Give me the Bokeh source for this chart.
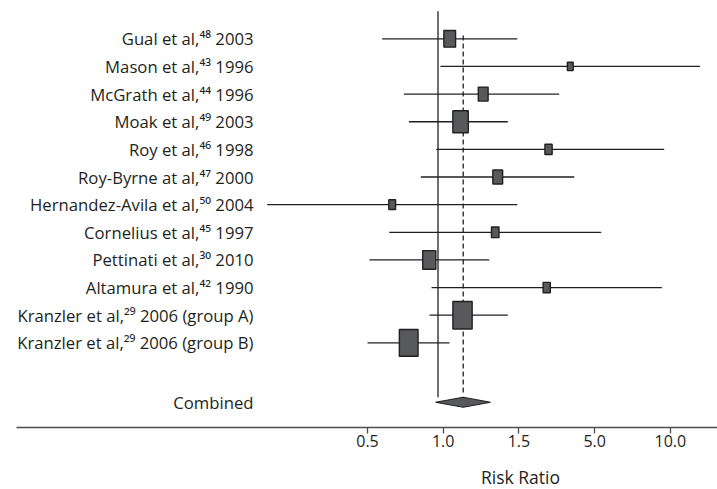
from bokeh.plotting import figure
from bokeh.models import (ColumnDataSource, LinearAxis, FixedTicker, Range1d)
from bokeh.core.properties import value
from bokeh.embed import file_html
from bokeh.resources import INLINE

# ---- data (x values are positions on the risk-ratio axis, in tick units:
#      0 -> 0.5, 1 -> 1.0, 2 -> 1.5, 3 -> 5.0, 4 -> 10.0) ----
authors = ["Gual et al,", "Mason et al,", "McGrath et al,", "Moak et al,", "Roy et al,",
           "Roy-Byrne at al,", "Hernandez-Avila et al,", "Cornelius et al,", "Pettinati et al,",
           "Altamura et al,", "Kranzler et al,", "Kranzler et al,"]
refs = ["48", "43", "44", "49", "46", "47", "50", "45", "30", "42", "29", "29"]
years = ["2003", "1996", "1996", "2003", "1998", "2000", "2004", "1997", "2010", "1990",
         "2006 (group A)", "2006 (group B)"]
estimate = [1.086, 2.678, 1.528, 1.229, 2.391, 1.720, 0.326, 1.687, 0.816, 2.367, 1.255, 0.544]
lower = [0.194, 0.964, 0.480, 0.546, 0.908, 0.704, -1.325, 0.287, 0.026, 0.845, 0.819, 0.000]
upper = [1.978, 4.390, 2.532, 1.853, 3.919, 2.731, 1.978, 3.087, 1.608, 3.888, 1.853, 1.083]
weights = [16.7, 8.3, 14.0, 22.0, 10.3, 14.0, 9.7, 10.7, 18.7, 10.3, 27.5, 26.7]
combined_label = "Combined"
combined_est, combined_lo, combined_hi = 1.264, 0.898, 1.625
null_value = 0.931
tick_pos = [0, 1, 2, 3, 4]
tick_labels = ["0.5", "1.0", "1.5", "5.0", "10.0"]
axis_title = "Risk Ratio"

SUP = str.maketrans("0123456789", "⁰¹²³⁴⁵⁶⁷⁸⁹")
labels = [f"{a}{r.translate(SUP)} {y}" for a, r, y in zip(authors, refs, years)]
rows = list(range(len(labels)))
combined_row = 13.15

FONT = "Open Sans"
TXT = "#231f20"
BOX = "#58595b"
AXC = "#4d4d4f"

X0, X1 = -4.848, 4.623
Y_AXIS = 14.063

p = figure(width=717, height=489, output_backend="svg", toolbar_location=None,
           x_axis_type=None, y_axis_type=None,
           x_range=Range1d(X0, X1), y_range=Range1d(16.306, -1.386),
           min_border_left=0, min_border_right=0, min_border_top=0, min_border_bottom=0)
p.outline_line_color = None
p.grid.visible = False
p.background_fill_color = "white"
p.border_fill_color = "white"

src = ColumnDataSource(dict(label=labels, row=rows, est=estimate, lo=lower, hi=upper,
                            h=weights, w=[v * 0.7 for v in weights]))

# axis base line
p.segment(x0=[-4.637], y0=[Y_AXIS], x1=[X1], y1=[Y_AXIS], line_color=AXC, line_width=1.4)

# reference lines
p.segment(x0=[null_value], y0=[-0.996], x1=[null_value], y1=[12.967],
          line_color=TXT, line_width=1.3)
p.segment(x0=[combined_est], y0=[-0.119], x1=[combined_est], y1=[12.833],
          line_color=TXT, line_width=1.3, line_dash="5 3")

# confidence intervals
p.segment(x0="lo", y0="row", x1="hi", y1="row", source=src, line_color=TXT, line_width=1.3)
# study boxes
p.rect(x="est", y="row", width="w", height="h", width_units="screen", height_units="screen",
       source=src, fill_color=BOX, line_color=TXT, line_width=1.4)

# combined diamond
dh = 0.181
p.patch(x=[combined_lo, combined_est, combined_hi, combined_est],
        y=[combined_row, combined_row - dh, combined_row, combined_row + dh],
        fill_color=BOX, line_color=TXT, line_width=1.2)

# study labels
p.text(x=-1.506, y="row", text="label", source=src, text_align="right", text_baseline="middle",
       text_font=value(FONT), text_font_size="16.7px", text_color=TXT)
p.text(x=[-1.506], y=[combined_row], text=[combined_label], text_align="right",
       text_baseline="middle", text_font=value(FONT), text_font_size="16.7px", text_color=TXT)

# axis (ticks + labels) drawn at the base line; its own line is replaced by the segment above
ax = LinearAxis(ticker=FixedTicker(ticks=tick_pos), fixed_location=Y_AXIS,
                major_label_overrides={t: l for t, l in zip(tick_pos, tick_labels)})
ax.axis_line_color = None
ax.major_tick_line_color = AXC
ax.major_tick_line_width = 1.3
ax.major_tick_in = 0
ax.major_tick_out = 6
ax.minor_tick_line_color = None
ax.major_label_standoff = 1
ax.major_label_text_font = FONT
ax.major_label_text_font_size = "16px"
ax.major_label_text_color = TXT
p.add_layout(ax, "below")

# axis title
p.text(x=[2.02], y=[15.854], text=[axis_title], text_align="center", text_baseline="middle",
       text_font=value(FONT), text_font_size="17.5px", text_color=TXT)

open("out.html", "w").write(file_html(p, INLINE))
